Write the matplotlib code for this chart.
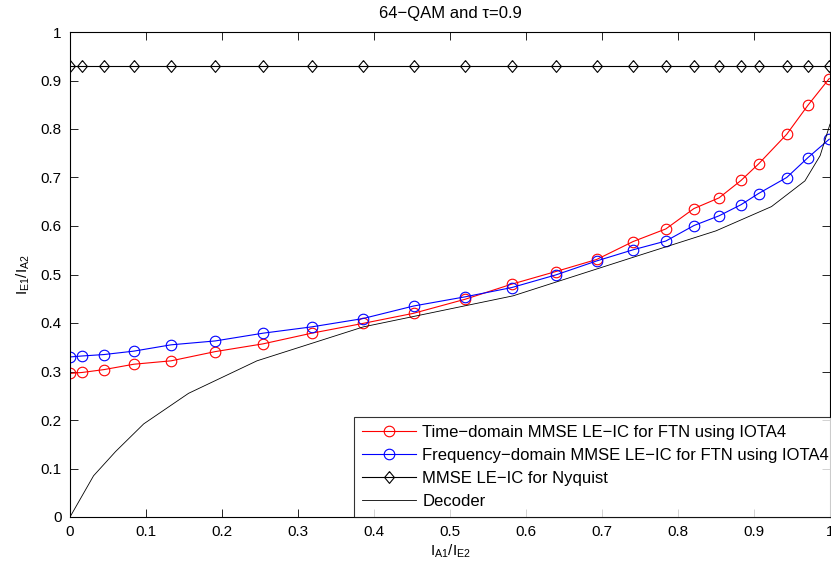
import numpy as np
import matplotlib
matplotlib.use("Agg")
import matplotlib.pyplot as plt
from matplotlib.ticker import FuncFormatter

plt.rcParams['font.family'] = ['Liberation Sans', 'DejaVu Sans']
plt.rcParams['mathtext.fontset'] = 'custom'
plt.rcParams['mathtext.rm'] = 'Liberation Sans'
plt.rcParams['mathtext.it'] = 'Liberation Sans'

# a-priori mutual information points shared by the equalizer curves
ia_points = [0.0, 0.016, 0.045, 0.084, 0.133, 0.191, 0.254, 0.318, 0.385, 0.452,
             0.520, 0.581, 0.639, 0.693, 0.741, 0.784, 0.821, 0.854, 0.883, 0.906,
             0.943, 0.971, 0.999]

time_domain = [0.296, 0.298, 0.304, 0.315, 0.322, 0.341, 0.357, 0.379, 0.399, 0.420,
               0.449, 0.480, 0.506, 0.531, 0.568, 0.594, 0.636, 0.658, 0.694, 0.728,
               0.789, 0.849, 0.904]

freq_domain = [0.330, 0.332, 0.335, 0.342, 0.355, 0.363, 0.379, 0.392, 0.409, 0.435,
               0.454, 0.473, 0.499, 0.528, 0.551, 0.569, 0.601, 0.621, 0.644, 0.667,
               0.700, 0.741, 0.779]

nyquist = [0.93] * len(ia_points)

# decoder EXIT curve (axes swapped)
dec_x = [0.0, 0.031, 0.06, 0.097, 0.156, 0.246, 0.386, 0.583, 0.74, 0.85,
         0.923, 0.967, 0.987, 1.0]
dec_y = [0.0, 0.085, 0.135, 0.192, 0.255, 0.322, 0.392, 0.456, 0.535, 0.59,
         0.640, 0.693, 0.745, 0.81]

labels = ["Time\u2212domain MMSE LE\u2212IC for FTN using IOTA4",
          "Frequency\u2212domain MMSE LE\u2212IC for FTN using IOTA4",
          "MMSE LE\u2212IC for Nyquist",
          "Decoder"]

diamond = [(0, 1), (0.83, 0), (0, -1), (-0.83, 0), (0, 1)]

fig = plt.figure(figsize=(8.31, 5.72), dpi=100)
ax = fig.add_axes([70 / 831, 55 / 572, 760 / 831, 485 / 572])

ax.plot(ia_points, time_domain, color='red', lw=0.8, marker='o', ms=7.6,
        mfc='none', mec='red', mew=0.8, label=labels[0])
ax.plot(ia_points, freq_domain, color='blue', lw=0.8, marker='o', ms=7.6,
        mfc='none', mec='blue', mew=0.8, label=labels[1])
ax.plot(ia_points, nyquist, color='black', lw=0.8, marker=diamond, ms=8.5,
        mfc='none', mec='black', mew=0.8, label=labels[2])
ax.plot(dec_x, dec_y, color='black', lw=0.6, label=labels[3])

ax.set_xlim(0, 1)
ax.set_ylim(0, 1)
ax.set_xticks(np.arange(0, 1.01, 0.1))
ax.set_yticks(np.arange(0, 1.01, 0.1))
fmt = FuncFormatter(lambda v, p: '%g' % round(v, 2))
ax.xaxis.set_major_formatter(fmt)
ax.yaxis.set_major_formatter(fmt)
ax.tick_params(direction='in', length=5.5, width=0.6, labelsize=11,
               top=True, right=True, pad=6)
for s in ax.spines.values():
    s.set_linewidth(0.8)

ax.set_title("64\u2212QAM and \u03c4=0.9", fontsize=12, pad=10)
ax.set_xlabel(r"$\mathregular{I_{A1}/I_{E2}}$", fontsize=11, labelpad=2)
ax.set_ylabel(r"$\mathregular{I_{E1}/I_{A2}}$", fontsize=11, labelpad=6)

leg = ax.legend(loc='lower left', bbox_to_anchor=(284 / 760, 0.0), fontsize=12,
                frameon=True, fancybox=False, edgecolor='black',
                handlelength=3.2, handletextpad=0.4, labelspacing=0.47,
                borderpad=0.5, borderaxespad=0)
leg.get_frame().set_linewidth(0.8)

fig.savefig("out.png", dpi=100)
